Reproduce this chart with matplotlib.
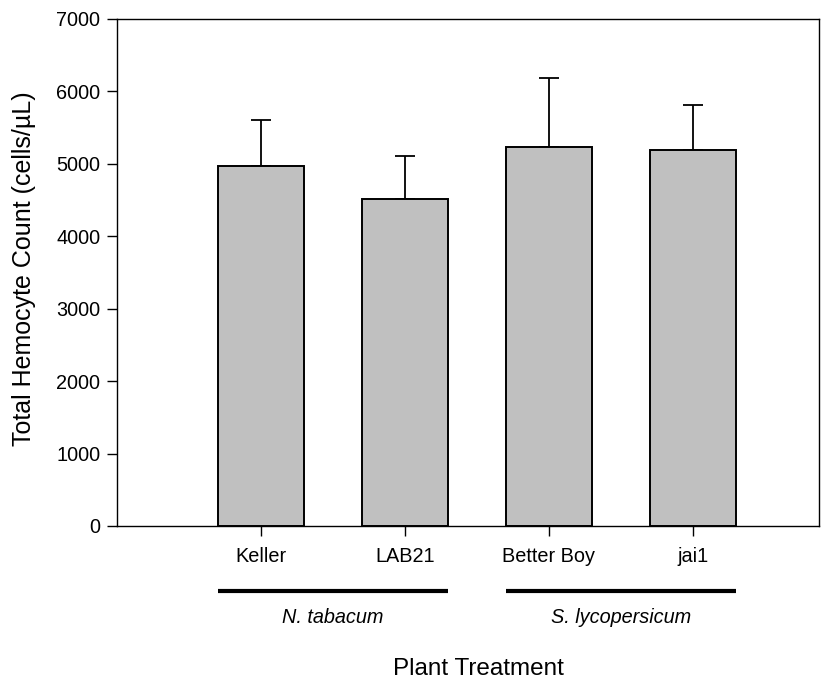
import matplotlib
matplotlib.use("Agg")
import matplotlib.pyplot as plt

plt.rcParams['font.family'] = ['Liberation Sans', 'DejaVu Sans']

categories = ["Keller", "LAB21", "Better Boy", "jai1"]
means = [4975, 4515, 5233, 5187]
upper_err = [635, 593, 952, 626]
groups = ["N. tabacum", "S. lycopersicum"]
group_members = [(0, 1), (2, 3)]

fig = plt.figure(figsize=(8.25, 6.83), dpi=100)
ax = fig.add_axes([0.1418, 0.2299, 0.8509, 0.7423])

x = list(range(1, len(categories) + 1))
bar_w = 0.6
ax.bar(x, means, width=bar_w, color="#c0c0c0", edgecolor="black", linewidth=1.4, zorder=2)
ax.errorbar(x, means, yerr=[[0] * len(means), upper_err], fmt="none",
            ecolor="black", elinewidth=1.3, capsize=7.5, capthick=1.3, zorder=1)

ax.set_xlim(0, 4.875)
ax.set_ylim(0, 7000)
ax.set_yticks(range(0, 7001, 1000))
ax.set_xticks(x)
ax.set_xticklabels(categories, fontsize=14.3)
ax.tick_params(axis="y", labelsize=14.3, direction="out", length=7, width=1, pad=5)
ax.tick_params(axis="x", direction="out", length=7, width=1, pad=8)
for s in ax.spines.values():
    s.set_linewidth(1.0)

fig.text(24 / 825, 1 - 268.5 / 683, "Total Hemocyte Count (cells/\u00b5L)",
         rotation=90, ha="center", va="center", fontsize=18)

# group brackets below the category labels
trans = ax.get_xaxis_transform()
for name, (i0, i1) in zip(groups, group_members):
    x0 = x[i0] - bar_w / 2
    x1 = x[i1] + bar_w / 2
    ax.plot([x0, x1], [-0.128, -0.128], transform=trans, color="black",
            linewidth=3, clip_on=False, solid_capstyle="butt")
    ax.text((x0 + x1) / 2, -0.181, name, transform=trans, ha="center", va="center",
            fontsize=14.3, style="italic")

fig.text(478 / 825, 1 - 669 / 683, "Plant Treatment", ha="center", va="center",
         fontsize=17.5)

fig.savefig("out.png", dpi=100)
